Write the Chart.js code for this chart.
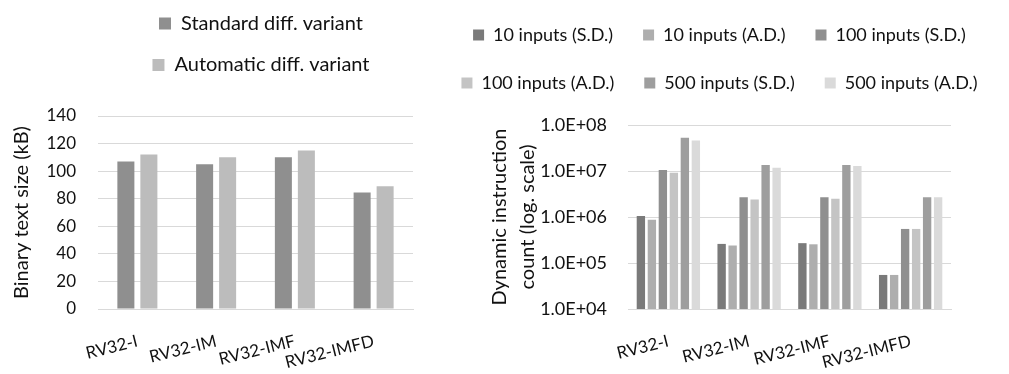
<!DOCTYPE html>
<html>
<head>
<meta charset="utf-8">
<script src="https://cdn.jsdelivr.net/npm/chart.js@4/dist/chart.umd.min.js"></script>
<style>
  body { margin: 0; background: #fff; }
  .box { position: absolute; top: 0; height: 374px; }
  #left { left: 0; width: 430px; }
  #right { left: 430px; width: 579px; }
</style>
</head>
<body>
<div class="box" id="left"><canvas id="sizeChart"></canvas></div>
<div class="box" id="right"><canvas id="countChart"></canvas></div>
<script>
// categories shared by both charts
const categories = ['RV32-I', 'RV32-IM', 'RV32-IMF', 'RV32-IMFD'];

// left chart: binary text size (kB)
const sizeLabels = ['Standard diff. variant', 'Automatic diff. variant'];
const sizeStandard = [107, 105, 110, 84.5];
const sizeAutomatic = [112, 110, 115, 89];
const sizeTicks = [0, 20, 40, 60, 80, 100, 120, 140];

// right chart: dynamic instruction count
const countLabels = ['10 inputs (S.D.)', '10 inputs (A.D.)', '100 inputs (S.D.)',
  '100 inputs (A.D.)', '500 inputs (S.D.)', '500 inputs (A.D.)'];
const count10SD = [1.05e6, 2.6e5, 2.7e5, 5.5e4];
const count10AD = [8.7e5, 2.4e5, 2.55e5, 5.5e4];
const count100SD = [1.05e7, 2.7e6, 2.7e6, 5.5e5];
const count100AD = [9.2e6, 2.4e6, 2.5e6, 5.5e5];
const count500SD = [5.3e7, 1.35e7, 1.35e7, 2.7e6];
const count500AD = [4.6e7, 1.18e7, 1.29e7, 2.7e6];
const countTicks = [1e4, 1e5, 1e6, 1e7, 1e8];

const textColor = '#111';
const gridColor = '#d9d9d9';
Chart.defaults.font.family = 'Lato, "Noto Sans", sans-serif';
Chart.defaults.color = textColor;
Chart.defaults.animation = false;

// moves the legend box after layout (Excel puts it off-centre)
function moveLegend(dx, dy) {
  return {
    id: 'moveLegend',
    afterLayout(chart) {
      const lg = chart.legend;
      lg.left += dx; lg.right += dx;
      lg.top += dy; lg.bottom += dy;
    }
  };
}

// fixed-size axis boxes so the plot areas land where Excel put them
const fixWidth = w => s => { s.width = w; };
const fixHeight = h => s => { s.height = h; };

// an empty axis on the right, only used as a spacer
const spacer = w => ({
  type: 'linear', position: 'right', display: true,
  grid: { display: false }, border: { display: false },
  ticks: { display: false }, afterFit: fixWidth(w)
});

// 1.0E+08 style labels
function sciLabel(v) {
  const e = Math.round(Math.log10(v));
  const m = v / Math.pow(10, e);
  return m.toFixed(1) + 'E+' + String(e).padStart(2, '0');
}

const xTicks = { autoSkip: false, minRotation: 14, maxRotation: 14, padding: 14, font: { size: 17 } };

new Chart(document.getElementById('sizeChart'), {
  type: 'bar',
  data: {
    labels: categories,
    datasets: [
      { label: sizeLabels[0], data: sizeStandard, backgroundColor: '#8f8f8f' },
      { label: sizeLabels[1], data: sizeAutomatic, backgroundColor: '#bcbcbc' }
    ]
  },
  options: {
    responsive: true,
    maintainAspectRatio: false,
    layout: { padding: { top: 23, left: 0, right: 0, bottom: 0 } },
    datasets: { bar: { categoryPercentage: 0.584, barPercentage: 0.74 } },
    plugins: {
      tooltip: { enabled: false },
      legend: {
        position: 'top',
        labels: { boxWidth: 12, boxHeight: 12, padding: 21.5, font: { size: 20 } }
      }
    },
    scales: {
      x: {
        grid: { display: false },
        border: { color: gridColor },
        afterFit: fixHeight(65),
        ticks: xTicks
      },
      y: {
        min: 0, max: 140,
        afterBuildTicks: axis => { axis.ticks = sizeTicks.map(v => ({ value: v })); },
        afterFit: fixWidth(98),
        grid: { color: gridColor, drawTicks: false },
        border: { display: false },
        ticks: { padding: 22, font: { size: 17 } },
        title: {
          display: true, text: 'Binary text size (kB)',
          font: { size: 20, lineHeight: 1.2 }, padding: { top: 10, bottom: 0 }
        }
      },
      yr: spacer(17)
    }
  },
  plugins: [moveLegend(46, -31)]
});

new Chart(document.getElementById('countChart'), {
  type: 'bar',
  data: {
    labels: categories,
    datasets: [
      { label: countLabels[0], data: count10SD, backgroundColor: '#7a7a7a' },
      { label: countLabels[1], data: count10AD, backgroundColor: '#aeaeae' },
      { label: countLabels[2], data: count100SD, backgroundColor: '#8f8f8f' },
      { label: countLabels[3], data: count100AD, backgroundColor: '#c4c4c4' },
      { label: countLabels[4], data: count500SD, backgroundColor: '#9e9e9e' },
      { label: countLabels[5], data: count500AD, backgroundColor: '#dadada' }
    ]
  },
  options: {
    responsive: true,
    maintainAspectRatio: false,
    layout: { padding: { top: 19, left: 0, right: 0, bottom: 0 } },
    datasets: { bar: { categoryPercentage: 0.817, barPercentage: 0.76 } },
    plugins: {
      tooltip: { enabled: false },
      legend: {
        position: 'top',
        labels: { boxWidth: 11, boxHeight: 11, padding: 30, font: { size: 18 } }
      }
    },
    scales: {
      x: {
        grid: { display: false },
        border: { color: gridColor },
        afterFit: fixHeight(65),
        ticks: xTicks
      },
      y: {
        type: 'logarithmic',
        min: 1e4, max: 1e8,
        afterBuildTicks: axis => { axis.ticks = countTicks.map(v => ({ value: v })); },
        afterFit: fixWidth(198),
        grid: { color: gridColor, drawTicks: false },
        border: { display: false },
        ticks: { padding: 21, font: { size: 18 }, callback: v => sciLabel(v) },
        title: {
          display: true,
          text: ['Dynamic instruction', 'count (log. scale)'],
          font: { size: 20, lineHeight: 1.4 },
          padding: { top: 56, bottom: 0 }
        }
      },
      yr: spacer(58)
    }
  },
  plugins: [moveLegend(0, -23)]
});
</script>
</body>
</html>
